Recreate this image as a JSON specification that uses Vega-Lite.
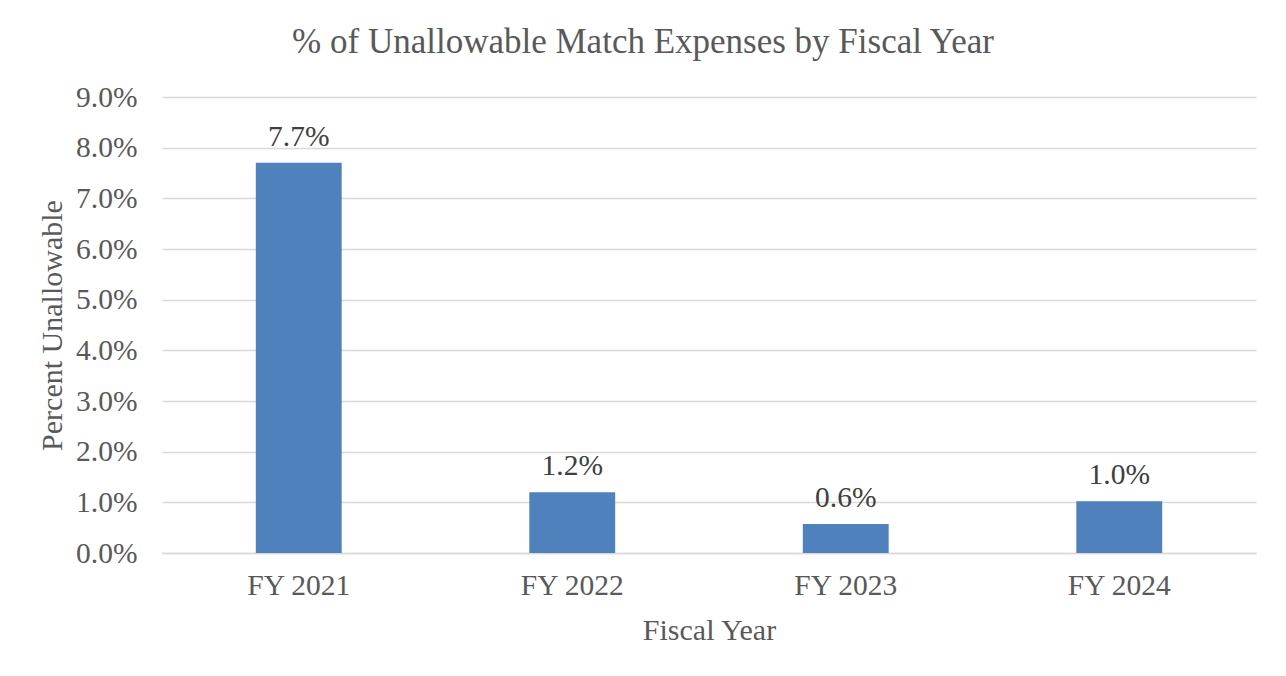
{
  "$schema": "https://vega.github.io/schema/vega-lite/v6.json",
  "autosize": {"type": "none"},
  "width": 1094,
  "height": 456,
  "padding": {"left": 162, "top": 97, "right": 30, "bottom": 123},
  "background": "white",
  "title": {
    "text": "% of Unallowable Match Expenses by Fiscal Year",
    "font": "Liberation Serif",
    "fontSize": 35,
    "fontWeight": "normal",
    "color": "#595959",
    "anchor": "middle",
    "dx": -66,
    "offset": 22
  },
  "data": {
    "values": [
      {"year": "FY 2021", "pct": 0.077},
      {"year": "FY 2022", "pct": 0.012},
      {"year": "FY 2023", "pct": 0.0057},
      {"year": "FY 2024", "pct": 0.0102}
    ]
  },
  "encoding": {
    "x": {
      "field": "year",
      "type": "nominal",
      "sort": null,
      "scale": {"paddingInner": 0.686, "paddingOuter": 0.343},
      "axis": {
        "title": "Fiscal Year",
        "labelAngle": 0,
        "labelFont": "Liberation Serif",
        "labelFontSize": 29.5,
        "labelColor": "#595959",
        "labelPadding": 18,
        "ticks": false,
        "domainColor": "#d9d9d9",
        "domainWidth": 1.5,
        "titleFont": "Liberation Serif",
        "titleFontSize": 30,
        "titleFontWeight": "normal",
        "titleColor": "#595959",
        "titlePadding": 16
      }
    },
    "y": {
      "field": "pct",
      "type": "quantitative",
      "scale": {"domain": [0, 0.09], "nice": false},
      "axis": {
        "title": "Percent Unallowable",
        "format": ".1%",
        "values": [0, 0.01, 0.02, 0.03, 0.04, 0.05, 0.06, 0.07, 0.08, 0.09],
        "labelFont": "Liberation Serif",
        "labelFontSize": 29.5,
        "labelColor": "#595959",
        "labelPadding": 25,
        "ticks": false,
        "domain": false,
        "gridColor": "#d9d9d9",
        "gridWidth": 1.5,
        "titleFont": "Liberation Serif",
        "titleFontSize": 30,
        "titleFontWeight": "normal",
        "titleColor": "#595959",
        "titlePadding": 8
      }
    }
  },
  "layer": [
    {"mark": {"type": "bar", "color": "#4f81bd"}},
    {
      "mark": {"type": "text", "baseline": "alphabetic", "dy": -17, "font": "Liberation Serif", "fontSize": 29.5, "color": "#404040"},
      "encoding": {"text": {"field": "pct", "type": "quantitative", "format": ".1%"}}
    }
  ],
  "config": {"view": {"stroke": null}}
}
